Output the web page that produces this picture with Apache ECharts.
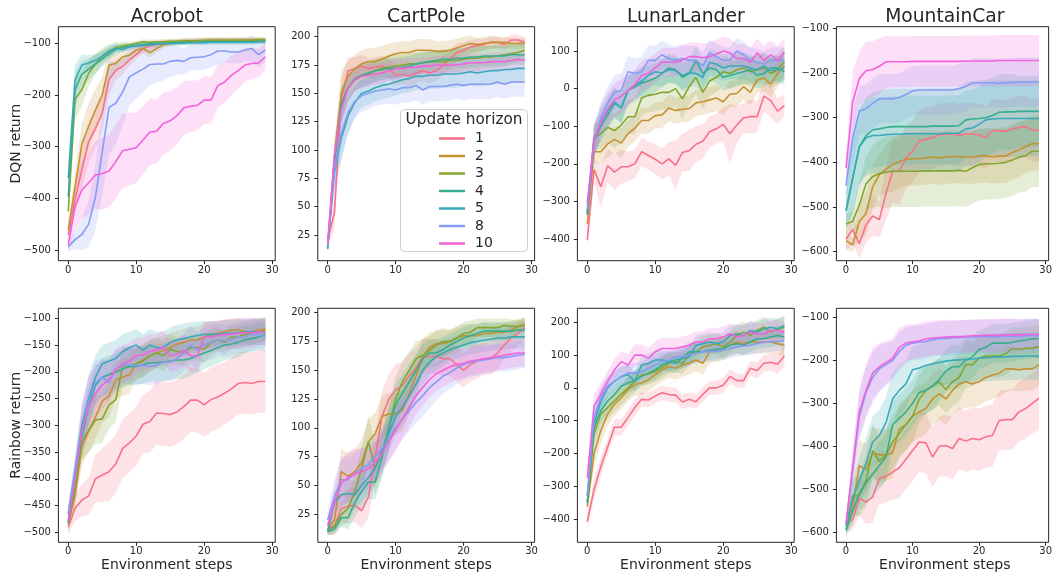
<!DOCTYPE html>
<html><head><meta charset="utf-8">
<script src="https://cdn.jsdelivr.net/npm/echarts@6/dist/echarts.min.js"></script>
<style>html,body{margin:0;padding:0;background:#fff}#c{width:1055px;height:578px}</style>
</head><body><div id="c"></div><script>
// ---------- categories / labels ----------
const steps = [0,1,2,3,4,5,6,7,8,9,10,11,12,13,14,15,16,17,18,19,20,21,22,23,24,25,26,27,28,29];
const horizons = ['1','2','3','4','5','8','10'];
const envTitles = ['Acrobot','CartPole','LunarLander','MountainCar'];
const rowLabels = ['DQN return','Rainbow return'];
const xLabel = 'Environment steps';
const legendTitle = 'Update horizon';
const xTicks = [0,10,20,30];
const acrobotDqnTicks = [-500,-400,-300,-200,-100];
const cartpoleDqnTicks = [25,50,75,100,125,150,175,200];
const lunarDqnTicks = [-400,-300,-200,-100,0,100];
const mountainDqnTicks = [-600,-500,-400,-300,-200,-100];
const acrobotRbTicks = [-500,-450,-400,-350,-300,-250,-200,-150,-100];
const cartpoleRbTicks = [25,50,75,100,125,150,175,200];
const lunarRbTicks = [-400,-300,-200,-100,0,100,200];
const mountainRbTicks = [-600,-500,-400,-300,-200,-100];

// ---------- series values (order: horizons 1,2,3,4,5,8,10) ----------
const acrobotDqnMean = [
 [-471,-403,-345,-290,-265,-235,-170,-152,-145,-132,-122,-110,-105,-102,-100,-98,-97,-96,-96,-95,-95,-94,-94,-95,-95,-94,-94,-94,-95,-95],
 [-460,-378,-295,-261,-229,-200,-142,-139,-126,-123,-113,-110,-118,-110,-103,-100,-98,-97,-96,-96,-95,-95,-94,-94,-94,-94,-94,-94,-94,-94],
 [-425,-208,-190,-158,-140,-125,-115,-108,-105,-103,-100,-97,-98,-97,-97,-96,-96,-95,-95,-95,-94,-94,-94,-94,-94,-94,-94,-94,-93,-93],
 [-397,-190,-160,-150,-140,-130,-120,-112,-108,-106,-104,-102,-101,-100,-100,-99,-99,-98,-98,-98,-97,-97,-97,-97,-97,-97,-97,-97,-96,-96],
 [-361,-171,-142,-138,-133,-125,-115,-110,-112,-107,-105,-104,-103,-102,-101,-101,-100,-100,-99,-99,-99,-98,-98,-98,-98,-98,-98,-98,-97,-97],
 [-494,-480,-470,-450,-397,-310,-224,-216,-194,-165,-157,-150,-141,-140,-140,-135,-133,-135,-128,-127,-126,-122,-115,-115,-117,-117,-113,-110,-122,-113],
 [-490,-416,-384,-370,-355,-352,-347,-329,-308,-305,-302,-287,-272,-270,-255,-250,-240,-225,-222,-220,-210,-210,-182,-175,-162,-153,-142,-139,-138,-126]
];
const acrobotDqnBand = [
 [12,25,40,40,38,35,28,20,15,12,10,9,8,7,6,6,5,5,5,5,5,5,5,5,5,5,5,5,5,5],
 [15,30,40,45,40,35,28,18,14,12,10,10,10,8,6,5,5,5,5,5,5,5,5,5,5,5,5,5,5,5],
 [20,40,32,25,20,16,13,10,8,6,5,5,5,5,5,5,5,5,5,5,5,5,5,5,5,5,5,5,5,5],
 [25,35,25,20,18,15,12,10,8,6,5,5,5,5,5,5,5,5,5,5,5,5,5,5,5,5,5,5,5,5],
 [30,30,20,15,12,10,10,8,6,5,5,5,5,5,5,5,5,5,5,5,5,5,5,5,5,5,5,5,5,5],
 [10,18,30,45,65,85,90,80,65,55,50,45,40,35,32,30,28,25,25,25,25,25,25,22,22,22,22,25,25,22],
 [15,45,55,60,65,70,70,72,72,70,68,66,64,62,60,58,55,52,50,48,46,45,42,40,38,35,32,30,28,25]
];
const cartpoleDqnMean = [
 [20,45,145,170,172,174,172,173,174,172,166,167,165,168,170,168,170,175,180,186,188,191,192,193,195,195,193,197,197,195],
 [15,95,150,165,172,176,178,178,180,183,185,186,186,188,188,188,187,187,188,190,192,194,193,194,195,195,195,194,194,194],
 [13,90,140,155,162,165,167,170,172,173,174,175,176,176,177,178,178,178,179,179,180,181,181,182,182,183,184,185,186,188],
 [13,90,140,155,163,166,168,170,171,172,172,173,174,176,177,178,179,180,180,181,181,182,182,183,183,183,183,184,184,184],
 [15,80,110,130,142,150,152,155,157,158,160,162,163,165,165,166,166,167,167,167,168,169,168,169,170,170,171,171,172,172],
 [15,82,115,133,143,148,150,152,153,154,153,155,155,157,153,156,156,156,157,158,157,158,158,158,158,160,158,160,160,160],
 [18,95,135,155,162,165,166,167,168,170,172,172,173,173,174,174,175,175,175,175,176,177,177,177,178,178,178,179,180,179]
];
const cartpoleDqnBand = [
 [6,15,18,12,10,10,9,9,9,9,9,9,9,9,9,9,9,9,8,8,7,6,6,5,5,5,5,5,5,5],
 [5,15,20,14,12,12,12,12,12,11,10,10,10,10,10,10,9,9,9,8,8,7,6,6,6,5,5,5,5,5],
 [3,12,15,12,10,10,10,10,10,10,10,10,10,10,10,10,10,10,10,10,10,10,10,10,10,10,10,9,9,9],
 [3,12,15,12,10,10,10,10,9,9,9,9,9,9,9,9,9,9,9,9,9,9,9,9,9,9,9,9,9,9],
 [3,15,20,16,13,12,12,12,12,12,12,12,12,12,12,12,12,12,12,12,12,12,12,12,12,12,12,12,12,12],
 [3,16,22,18,15,14,14,13,13,13,13,13,13,13,13,13,13,13,13,13,13,13,13,13,13,13,13,13,13,13],
 [5,12,15,12,10,10,10,9,9,9,9,8,8,8,8,8,8,8,8,8,8,8,8,8,8,8,8,8,8,8]
];
const lunarDqnMean = [
 [-403,-215,-261,-205,-222,-208,-208,-200,-168,-178,-188,-200,-187,-204,-170,-165,-148,-140,-115,-107,-95,-120,-97,-78,-74,-75,-20,-32,-60,-45],
 [-360,-168,-168,-147,-135,-145,-120,-105,-85,-85,-72,-70,-52,-58,-55,-53,-38,-35,-30,-25,-35,-15,-13,5,-10,23,28,12,40,60],
 [-335,-130,-120,-103,-112,-97,-75,-75,-25,-18,-15,-10,-10,0,-27,5,30,-10,20,30,45,40,50,55,45,50,55,40,50,72],
 [-335,-140,-100,-70,-40,-50,-5,5,15,20,28,40,55,50,30,40,75,40,55,50,30,35,40,45,50,35,40,55,55,45],
 [-330,-135,-90,-60,-35,-52,-5,10,20,35,45,42,50,48,35,42,40,30,70,65,55,60,60,60,55,50,60,48,50,55],
 [-320,-140,-80,-40,-10,-5,45,40,45,75,75,90,80,75,80,75,75,60,95,85,75,75,100,90,75,70,65,75,75,75],
 [-305,-135,-90,-55,-30,-20,-5,10,35,40,55,70,70,70,75,85,85,82,85,92,100,95,80,80,70,95,75,90,75,97]
];
const lunarDqnBand = [
 [25,30,55,45,48,45,40,38,38,38,40,42,45,65,50,55,48,45,42,40,45,80,50,40,45,42,40,45,35,30],
 [15,30,35,35,35,40,35,35,35,35,35,35,35,35,35,35,35,35,35,35,35,35,35,35,35,35,35,35,35,35],
 [15,35,40,40,45,45,45,45,45,45,45,45,45,45,55,45,45,45,40,40,40,40,40,40,40,40,40,40,40,40],
 [15,40,40,40,40,40,38,38,38,38,38,38,38,38,38,38,38,38,35,35,35,35,35,35,35,35,35,35,35,35],
 [15,40,40,40,40,40,38,38,38,36,36,36,36,36,36,36,36,36,35,35,35,35,35,35,35,35,35,35,35,35],
 [15,40,45,45,45,45,42,40,40,40,38,38,38,38,38,38,38,38,35,35,35,35,35,35,35,35,35,35,35,35],
 [15,40,45,45,45,45,42,40,40,40,38,38,38,38,38,38,38,38,38,38,38,38,38,38,38,38,38,38,38,38]
];
const mountainDqnMean = [
 [-572,-550,-582,-540,-520,-528,-470,-420,-420,-390,-375,-352,-348,-345,-338,-337,-336,-340,-336,-337,-338,-345,-328,-330,-330,-325,-322,-320,-328,-328],
 [-575,-585,-532,-515,-455,-428,-415,-405,-398,-393,-392,-392,-390,-388,-390,-388,-387,-387,-388,-388,-386,-385,-388,-386,-386,-378,-372,-365,-358,-358],
 [-538,-532,-495,-448,-432,-425,-422,-420,-420,-420,-420,-420,-419,-419,-419,-419,-419,-418,-420,-412,-405,-403,-403,-402,-400,-395,-388,-385,-375,-375],
 [-508,-435,-365,-340,-327,-325,-322,-320,-320,-320,-320,-320,-320,-319,-319,-319,-319,-318,-305,-303,-302,-300,-295,-288,-287,-287,-286,-286,-286,-286],
 [-508,-435,-365,-345,-340,-340,-338,-337,-337,-336,-336,-336,-336,-336,-336,-335,-335,-335,-325,-323,-315,-305,-303,-302,-302,-302,-302,-302,-302,-302],
 [-452,-345,-285,-280,-268,-258,-257,-258,-255,-248,-240,-238,-238,-238,-238,-238,-238,-235,-230,-222,-222,-222,-222,-223,-222,-221,-220,-220,-220,-220],
 [-412,-265,-212,-195,-192,-185,-175,-175,-175,-175,-174,-174,-174,-174,-174,-174,-174,-174,-173,-173,-173,-173,-173,-172,-172,-172,-172,-172,-172,-172]
];
const mountainDqnBand = [
 [25,30,35,40,45,40,60,70,75,70,70,70,70,70,70,70,70,70,70,70,70,70,70,70,70,70,70,70,70,70],
 [20,15,40,50,50,45,55,60,60,60,60,60,60,60,60,60,60,60,60,60,60,60,60,60,60,60,60,60,60,60],
 [20,25,50,60,70,75,80,80,80,80,80,80,80,80,80,80,80,80,80,80,80,80,80,80,80,80,80,80,80,80],
 [40,80,85,85,85,85,85,85,85,85,85,85,85,85,85,85,85,85,85,85,85,85,85,85,85,85,80,80,80,80],
 [40,80,85,85,85,85,85,85,85,85,85,85,85,85,85,85,85,85,85,85,85,85,85,85,85,85,85,85,85,85],
 [30,60,55,55,55,55,55,55,55,55,55,55,55,55,55,55,55,55,55,55,55,55,55,55,55,55,55,55,55,55],
 [30,70,60,65,63,62,58,57,57,57,57,57,57,57,57,57,57,57,57,57,57,57,57,57,57,57,57,57,57,57]
];
const acrobotRbMean = [
 [-490,-455,-440,-432,-400,-393,-387,-372,-343,-333,-320,-298,-293,-277,-278,-280,-275,-265,-253,-253,-262,-252,-247,-240,-232,-222,-220,-222,-218,-218],
 [-485,-430,-340,-310,-285,-255,-245,-215,-210,-205,-185,-178,-170,-165,-160,-155,-148,-145,-140,-140,-135,-130,-128,-125,-122,-122,-125,-125,-122,-120],
 [-480,-420,-330,-310,-290,-288,-262,-252,-190,-188,-185,-180,-170,-165,-170,-158,-162,-163,-155,-155,-158,-145,-140,-145,-135,-135,-130,-128,-125,-122],
 [-482,-400,-320,-265,-225,-210,-205,-200,-195,-190,-190,-187,-183,-183,-182,-180,-178,-178,-175,-170,-165,-160,-155,-150,-148,-145,-140,-138,-135,-130],
 [-465,-385,-300,-250,-210,-185,-180,-175,-162,-155,-150,-160,-150,-155,-155,-145,-140,-138,-135,-132,-130,-130,-130,-128,-128,-127,-126,-125,-125,-125],
 [-465,-390,-310,-255,-220,-210,-220,-195,-188,-187,-188,-188,-190,-188,-182,-182,-175,-165,-150,-160,-150,-145,-140,-142,-140,-135,-135,-130,-130,-135],
 [-478,-400,-310,-265,-240,-225,-215,-195,-185,-180,-170,-168,-162,-160,-153,-170,-168,-160,-170,-170,-135,-135,-132,-130,-130,-128,-127,-127,-125,-125]
];
const acrobotRbBand = [
 [15,25,30,35,45,50,55,55,55,55,55,55,58,60,60,60,60,60,60,60,60,60,60,58,58,58,58,58,58,60],
 [15,25,35,40,40,40,40,35,35,35,30,30,30,28,28,28,25,25,25,25,25,25,22,22,22,22,22,22,22,22],
 [15,25,35,40,45,45,45,40,35,35,30,30,30,28,28,28,25,25,25,25,25,25,22,22,22,22,22,22,22,22],
 [15,25,35,35,35,35,35,35,35,35,35,35,35,35,35,35,35,35,32,32,30,30,30,28,28,28,25,25,25,25],
 [15,30,40,45,40,35,35,35,32,30,30,30,30,30,30,28,28,28,28,26,25,25,25,25,25,25,25,25,25,25],
 [15,30,40,45,40,35,35,35,35,35,35,35,35,35,35,35,35,35,35,35,32,32,30,30,30,30,30,30,28,28],
 [15,30,50,55,50,45,40,38,35,35,33,32,32,30,30,30,30,30,30,30,28,28,28,28,28,28,28,28,25,25]
];
const cartpoleRbMean = [
 [12,15,30,32,33,28,40,75,110,125,133,137,145,152,162,162,162,160,160,155,150,155,158,160,160,165,172,178,182,187],
 [12,20,62,58,62,70,88,95,110,112,112,115,130,145,162,170,173,173,175,178,180,180,180,182,182,183,183,185,188,190],
 [10,15,25,30,45,65,88,65,80,100,125,140,150,160,163,167,172,175,175,178,182,183,187,187,187,187,189,188,188,189],
 [10,12,22,22,35,45,53,53,75,100,120,130,140,150,160,165,165,168,172,175,178,180,182,184,184,184,184,184,185,185],
 [10,35,42,43,42,50,57,65,80,95,110,118,128,138,150,157,162,165,168,170,172,174,175,176,177,178,178,179,179,179],
 [20,40,55,55,60,65,68,75,82,90,100,108,115,122,128,135,140,145,148,152,155,157,158,159,160,161,161,162,163,164],
 [15,35,52,57,60,62,65,70,78,88,98,108,118,128,135,142,147,150,153,155,156,158,159,160,161,162,163,164,165,165]
];
const cartpoleRbBand = [
 [5,8,12,15,15,15,18,20,22,22,22,20,20,18,16,15,15,15,15,15,15,15,15,14,14,14,12,12,10,10],
 [4,8,20,20,20,20,20,18,18,18,18,18,18,16,15,13,12,12,10,10,10,10,10,10,8,8,8,8,6,6],
 [3,6,10,12,15,18,22,22,20,20,20,18,16,15,14,13,12,12,10,10,10,10,8,8,8,8,6,6,6,6],
 [3,5,8,10,12,14,15,15,18,18,18,16,15,14,13,12,12,11,10,10,10,10,8,8,8,8,8,8,8,8],
 [3,10,12,12,12,14,15,15,16,16,16,16,15,14,13,12,12,11,10,10,10,10,10,10,10,10,10,10,10,10],
 [8,15,20,20,18,18,18,18,18,18,18,18,18,18,18,18,16,15,14,14,13,13,13,12,12,12,12,12,12,12],
 [6,15,20,22,22,20,18,18,18,18,18,17,17,16,16,15,15,14,14,13,13,12,12,12,12,12,12,12,12,12]
];
const lunarRbMean = [
 [-408,-310,-240,-180,-120,-120,-90,-60,-35,-37,-25,-15,-20,-22,-43,-35,-42,-20,0,0,8,35,22,22,60,53,75,78,72,97],
 [-362,-200,-130,-80,-50,-30,-5,10,15,25,40,55,65,60,70,75,85,75,110,115,120,130,140,135,140,140,140,140,135,130],
 [-350,-140,-80,-60,-40,-20,0,20,40,42,50,62,75,80,75,100,110,125,130,135,125,140,160,170,160,175,185,170,180,185],
 [-350,-120,-70,-40,-20,5,15,22,35,45,55,70,80,85,90,110,110,110,115,118,120,130,135,130,140,150,150,155,160,155],
 [-330,-110,-40,0,20,35,40,20,70,75,85,85,80,75,90,95,130,135,140,135,140,160,165,160,175,170,180,185,180,190],
 [-330,-90,-30,5,20,35,45,45,50,60,70,80,85,95,95,100,105,110,110,112,115,120,125,128,130,135,140,140,142,145],
 [-275,-55,-20,20,55,80,70,100,100,90,110,120,120,120,125,130,140,140,150,150,155,165,155,160,170,165,165,175,175,170]
];
const lunarRbBand = [
 [25,30,28,25,25,25,25,25,22,22,22,22,22,22,22,22,22,22,22,22,22,22,22,22,22,25,25,25,30,30],
 [20,40,40,35,35,35,35,35,35,35,35,35,35,35,35,35,35,35,35,35,35,35,35,35,35,35,35,35,35,35],
 [20,40,38,35,32,32,32,32,32,32,32,32,32,32,32,32,32,32,32,32,32,32,32,32,32,32,32,32,32,32],
 [20,38,35,32,30,30,30,30,30,30,30,30,30,30,30,30,30,30,30,30,30,30,30,30,30,30,30,30,30,30],
 [20,38,35,32,30,30,30,30,30,30,30,30,30,30,30,30,30,30,30,30,30,30,30,30,30,30,30,30,30,30],
 [20,38,35,32,30,30,30,30,30,30,30,30,30,30,30,30,30,30,30,30,30,30,30,30,30,30,30,30,30,30],
 [20,35,35,32,32,32,32,32,32,32,32,32,32,32,32,32,32,32,32,32,32,32,32,32,32,32,32,32,32,32]
];
const mountainRbMean = [
 [-580,-570,-520,-530,-518,-475,-470,-460,-450,-430,-410,-390,-392,-425,-400,-398,-405,-382,-388,-382,-385,-378,-375,-340,-338,-338,-320,-312,-300,-288],
 [-580,-540,-445,-455,-415,-420,-420,-415,-360,-350,-330,-320,-312,-290,-278,-290,-270,-255,-250,-255,-250,-240,-235,-230,-220,-220,-222,-220,-220,-210],
 [-595,-515,-515,-480,-410,-435,-420,-390,-370,-350,-330,-290,-270,-260,-250,-268,-250,-240,-210,-210,-195,-190,-190,-190,-185,-172,-175,-172,-172,-168],
 [-595,-550,-510,-485,-465,-445,-425,-350,-335,-320,-300,-275,-270,-260,-245,-225,-215,-215,-200,-192,-175,-170,-160,-160,-160,-158,-155,-153,-150,-150],
 [-585,-520,-480,-440,-390,-375,-345,-290,-270,-255,-222,-218,-212,-208,-205,-202,-200,-199,-198,-197,-195,-194,-193,-192,-192,-191,-191,-190,-190,-191],
 [-580,-455,-330,-275,-240,-220,-210,-200,-180,-165,-160,-158,-156,-152,-150,-149,-148,-147,-146,-146,-145,-145,-145,-145,-144,-144,-144,-143,-143,-143],
 [-580,-450,-320,-270,-230,-215,-205,-195,-170,-160,-157,-155,-150,-148,-147,-146,-145,-145,-144,-143,-143,-142,-142,-142,-141,-141,-141,-140,-140,-140]
];
const mountainRbBand = [
 [20,25,40,50,60,60,60,65,70,70,70,70,70,70,70,72,72,72,72,72,72,72,72,70,70,70,70,70,70,75],
 [20,40,60,60,60,60,60,60,60,60,60,60,60,60,60,60,60,60,60,55,55,55,55,55,55,50,50,50,50,50],
 [15,40,50,60,60,60,60,60,60,60,60,55,55,55,55,55,55,55,55,50,50,50,50,50,50,50,50,50,50,50],
 [15,30,40,50,50,55,55,55,55,55,55,55,55,55,50,50,50,50,50,50,45,45,45,45,45,45,45,45,45,45],
 [15,40,55,60,60,60,60,60,60,55,55,55,55,55,55,55,55,55,55,55,55,55,55,55,55,55,55,55,55,55],
 [15,40,55,60,60,55,50,45,45,42,40,40,40,40,40,40,40,40,40,40,40,40,40,40,40,40,40,40,40,40],
 [15,40,55,60,60,55,50,45,45,42,40,40,40,40,40,40,38,38,38,38,38,38,38,38,38,38,36,36,36,36]
];

// ---------- styling / layout ----------
const colors = ['#f77189','#c59233','#84a631','#34ae8e','#39a9b8','#869bf5','#f461dd'];
const FONT = 'DejaVu Sans';
const INK = '#262626';
const gridLefts = [58.4, 317.8, 577.4, 836.4];
const gridW = 216.8;
const rowTops = [26.7, 308.3];
const gridH = 234;

const panels = [
  {mean: acrobotDqnMean,  band: acrobotDqnBand,  ticks: acrobotDqnTicks,  yMin: -520.7, yMax: -67.9},
  {mean: cartpoleDqnMean, band: cartpoleDqnBand, ticks: cartpoleDqnTicks, yMin: 2.3,    yMax: 208.8},
  {mean: lunarDqnMean,    band: lunarDqnBand,    ticks: lunarDqnTicks,    yMin: -457.7, yMax: 164.6},
  {mean: mountainDqnMean, band: mountainDqnBand, ticks: mountainDqnTicks, yMin: -620.1, yMax: -96.4},
  {mean: acrobotRbMean,   band: acrobotRbBand,   ticks: acrobotRbTicks,   yMin: -518.7, yMax: -81.3},
  {mean: cartpoleRbMean,  band: cartpoleRbBand,  ticks: cartpoleRbTicks,  yMin: 0.7,    yMax: 203.8},
  {mean: lunarRbMean,     band: lunarRbBand,     ticks: lunarRbTicks,     yMin: -471,   yMax: 242.7},
  {mean: mountainRbMean,  band: mountainRbBand,  ticks: mountainRbTicks,  yMin: -623.3, yMax: -79.1}
];

const fmt = v => (v < 0 ? '\u2212' + Math.abs(v) : String(v));
const rgba = (hex, a) => 'rgba(' + parseInt(hex.slice(1, 3), 16) + ',' + parseInt(hex.slice(3, 5), 16) + ',' + parseInt(hex.slice(5, 7), 16) + ',' + a + ')';
const grids = [], xAxes = [], yAxes = [], series = [];

panels.forEach((p, idx) => {
  const row = Math.floor(idx / 4), col = idx % 4;
  grids.push({left: gridLefts[col], top: rowTops[row], width: gridW, height: gridH,
    show: true, borderColor: INK, borderWidth: 1, backgroundColor: 'transparent'});
  xAxes.push({type: 'value', gridIndex: idx, min: -1.45, max: 30.45,
    axisLine: {show: false, onZero: false}, splitLine: {show: false},
    axisTick: {show: true, length: 3.5, lineStyle: {color: INK}, customValues: xTicks},
    axisLabel: {customValues: xTicks, fontFamily: FONT, fontSize: 10, color: INK, margin: 4.5}});
  yAxes.push({type: 'value', gridIndex: idx, min: p.yMin, max: p.yMax,
    axisLine: {show: false, onZero: false}, splitLine: {show: false},
    axisTick: {show: true, length: 3.5, lineStyle: {color: INK}, customValues: p.ticks},
    axisLabel: {customValues: p.ticks, formatter: fmt, fontFamily: FONT, fontSize: 10, color: INK, margin: 7.5}});
  horizons.forEach((h, k) => {
    const m = p.mean[k], b = p.band[k];
    series.push({type: 'custom', name: 'band' + idx + '_' + k, xAxisIndex: idx, yAxisIndex: idx,
      silent: true, clip: true, z: 1,
      data: steps.map((x, i) => [x, m[i] - b[i], m[i] + b[i]]),
      encode: {x: 0, y: [1, 2]},
      renderItem: (params, api) => {
        if (params.dataIndex !== 0) return null;
        const pts = [];
        for (let i = 0; i < steps.length; i++) pts.push(api.coord([steps[i], m[i] + b[i]]));
        for (let i = steps.length - 1; i >= 0; i--) pts.push(api.coord([steps[i], m[i] - b[i]]));
        return {type: 'polygon', shape: {points: pts}, style: {fill: rgba(colors[k], 0.2), stroke: null}};
      }});
  });
  horizons.forEach((h, k) => {
    series.push({type: 'line', name: h, xAxisIndex: idx, yAxisIndex: idx,
      data: steps.map((x, i) => [x, p.mean[k][i]]), symbol: 'none',
      lineStyle: {color: colors[k], width: 1.6}, itemStyle: {color: colors[k]}, z: 3});
  });
});

const txt = (text, x, y, size, rot) => ({type: 'text', x: x, y: y, rotation: rot || 0, z: 70,
  style: {text: text, font: size + 'px "' + FONT + '"', fill: INK,
    align: 'center', verticalAlign: 'middle', textAlign: 'center', textVerticalAlign: 'middle'}});

const graphics = [];
envTitles.forEach((t, c) => graphics.push(txt(t, gridLefts[c] + gridW / 2, 17, 18.7)));
graphics.push(txt(rowLabels[0], 16, rowTops[0] + gridH / 2, 14, Math.PI / 2));
graphics.push(txt(rowLabels[1], 16, rowTops[1] + gridH / 2, 14, Math.PI / 2));
envTitles.forEach((t, c) => graphics.push(txt(xLabel, gridLefts[c] + gridW / 2, 565, 14)));
graphics.push({type: 'rect', z: 55, shape: {x: 400.5, y: 109.5, width: 127, height: 142, r: 4},
  style: {fill: 'rgba(255,255,255,0.8)', stroke: '#cccccc', lineWidth: 1}});
graphics.push(txt(legendTitle, 464, 120.5, 15.3));

const chart = echarts.init(document.getElementById('c'), null, {renderer: 'canvas'});
chart.setOption({
  animation: false,
  backgroundColor: '#ffffff',
  grid: grids, xAxis: xAxes, yAxis: yAxes, series: series,
  legend: {data: horizons, orient: 'vertical', left: 439, top: 131.5, icon: 'rect',
    itemWidth: 26, itemHeight: 2.5, itemGap: 3.5, selectedMode: false, z: 60, padding: 0,
    textStyle: {fontFamily: FONT, fontSize: 14, color: INK, lineHeight: 14, padding: [0, 0, 0, 5]}},
  graphic: graphics
});
</script></body></html>
